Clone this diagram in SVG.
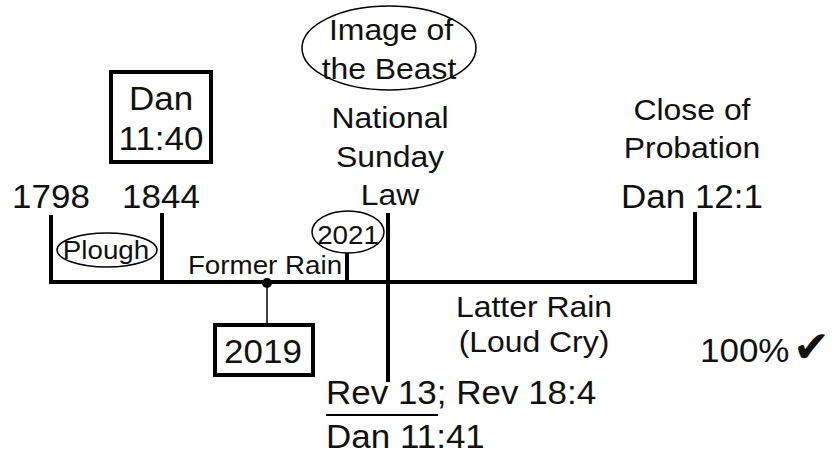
<svg xmlns="http://www.w3.org/2000/svg" width="838" height="457" viewBox="0 0 838 457">
<style>
text{font-family:"Liberation Sans",Arial,sans-serif;fill:#111;text-anchor:middle}
.big{font-size:33px}
.mid{font-size:29px}
.sm{font-size:25px}
.st{text-anchor:start}
.thick{stroke:#000;stroke-width:4;fill:none}
.thin{stroke:#000;stroke-width:1.5;fill:none}
.box{stroke:#000;stroke-width:4;fill:#fff}
</style>
<rect width="838" height="457" fill="#fff"/>
<g id="connectors">
<path class="thick" d="M51 215V282H695V212"/>
<path class="thick" d="M162 213V282"/>
<path class="thick" d="M347 253V282"/>
<path class="thick" d="M388 213V382"/>
<path class="thin" d="M267 282V323"/>
<circle cx="267" cy="283" r="5" fill="#000"/>
</g>
<g id="image-of-beast">
<ellipse class="thin" cx="389" cy="48" rx="87" ry="42"/>
<text class="mid" transform="translate(391 40) scale(1.1 1)">Image of</text>
<text class="mid" transform="translate(389 79) scale(1.1 1)">the Beast</text>
</g>
<g id="national-sunday-law">
<text class="mid" transform="translate(390 128) scale(1.1 1)">National</text>
<text class="mid" transform="translate(390 167) scale(1.1 1)">Sunday</text>
<text class="mid" transform="translate(390 205) scale(1.1 1)">Law</text>
</g>
<g id="dan-11-40">
<rect class="box" x="111" y="72" width="100" height="90"/>
<text class="big" transform="translate(161 110) scale(1.06 1)">Dan</text>
<text class="big" transform="translate(161 150) scale(1.06 1)">11:40</text>
</g>
<g id="y1798"><text class="big" transform="translate(51 208) scale(1.06 1)">1798</text></g>
<g id="y1844"><text class="big" transform="translate(161 208) scale(1.06 1)">1844</text></g>
<g id="plough">
<ellipse class="thin" cx="107" cy="250" rx="50" ry="17"/>
<text class="sm" transform="translate(106 259) scale(1.11 1)">Plough</text>
</g>
<g id="former-rain"><text class="sm" transform="translate(265 274) scale(1.11 1)">Former Rain</text></g>
<g id="y2021">
<ellipse class="thin" cx="348" cy="232" rx="36" ry="21"/>
<text class="sm" transform="translate(348 244) scale(1.11 1)">2021</text>
</g>
<g id="close-of-probation">
<text class="mid" transform="translate(692 120) scale(1.1 1)">Close of</text>
<text class="mid" transform="translate(692 158) scale(1.1 1)">Probation</text>
<text class="big" transform="translate(692 208) scale(1.06 1)">Dan 12:1</text>
</g>
<g id="y2019">
<rect class="box" x="215" y="325" width="98" height="50"/>
<text class="big" transform="translate(263 363) scale(1.06 1)">2019</text>
</g>
<g id="latter-rain">
<text class="mid" transform="translate(534 317) scale(1.1 1)">Latter Rain</text>
<text class="mid" transform="translate(534 352) scale(1.1 1)">(Loud Cry)</text>
</g>
<g id="refs">
<text class="big st" transform="translate(326 404) scale(1.06 1)">Rev 13; Rev 18:4</text>
<line x1="326" y1="415" x2="438" y2="415" stroke="#000" stroke-width="2"/>
<text class="big st" transform="translate(326 448) scale(1.06 1)">Dan 11:41</text>
</g>
<g id="percent">
<text class="big st" transform="translate(700 362) scale(1.06 1)">100%</text>
<text class="st" x="793" y="362" style="font-family:'DejaVu Sans',sans-serif;font-size:44px">✔</text>
</g>
</svg>
